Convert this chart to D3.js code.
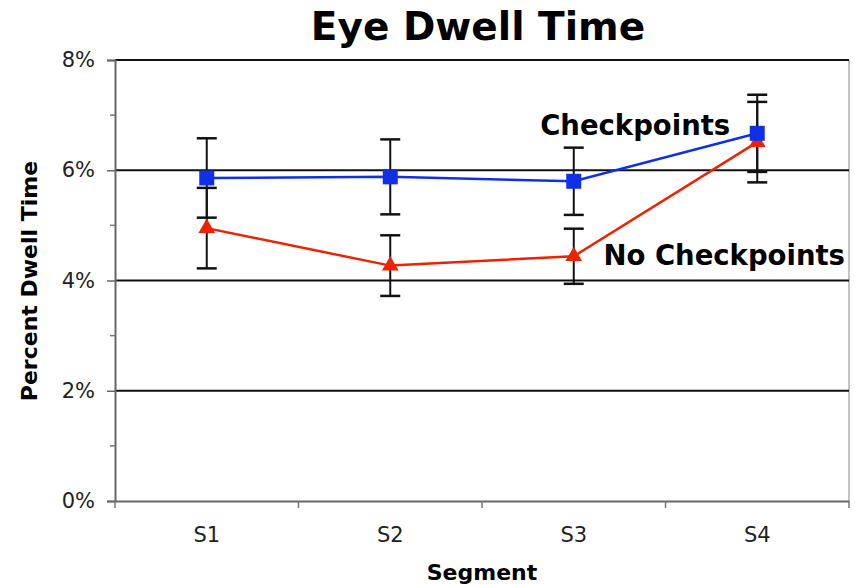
<!DOCTYPE html>
<html>
<head>
<meta charset="utf-8">
<script src="https://cdn.jsdelivr.net/npm/d3@7/dist/d3.min.js"></script>
<style>
  body { margin: 0; background: #fff; }
  text { font-family: "DejaVu Sans", Verdana, sans-serif; }
</style>
</head>
<body>
<div id="chart"></div>
<script>
var segments = ["S1", "S2", "S3", "S4"];
var checkpoints = [5.86, 5.88, 5.80, 6.67];
var checkpointsErr = [0.72, 0.68, 0.61, 0.70];
var noCheckpoints = [4.95, 4.27, 4.44, 6.51];
var noCheckpointsErr = [0.73, 0.55, 0.50, 0.73];
var yMajorTicks = [0, 2, 4, 6, 8];
var yMinorTicks = [1, 3, 5, 7];

var svgWidth = 855;
var svgHeight = 585;

var margin = { top: 60, right: 6, bottom: 84, left: 115 };
var width = svgWidth - margin.left - margin.right;
var height = svgHeight - margin.top - margin.bottom;

var svg = d3.select("#chart")
  .append("svg")
  .attr("width", svgWidth)
  .attr("height", svgHeight);

var chartGroup = svg.append("g")
  .attr("transform", `translate(${margin.left}, ${margin.top})`);

var xScale = d3.scaleBand()
  .domain(segments)
  .range([0, width]);

var yScale = d3.scaleLinear()
  .domain([0, 8])
  .range([height, 0]);

// right border
chartGroup.append("line")
  .attr("x1", width).attr("x2", width)
  .attr("y1", 0).attr("y2", height)
  .attr("stroke", "#b0b0b0")
  .attr("stroke-width", 1.5);

// gridlines
chartGroup.selectAll(".grid")
  .data(yMajorTicks.filter(d => d > 0))
  .enter()
  .append("line")
  .attr("class", "grid")
  .attr("x1", 0).attr("x2", width)
  .attr("y1", d => yScale(d)).attr("y2", d => yScale(d))
  .attr("stroke", "#111")
  .attr("stroke-width", 2);

// y axis
var leftAxis = d3.axisLeft(yScale)
  .tickValues(yMajorTicks)
  .tickSize(8)
  .tickPadding(12)
  .tickFormat(d => d + "%");

var yAxisG = chartGroup.append("g").call(leftAxis);
yAxisG.select(".domain").attr("stroke", "#666").attr("stroke-width", 2);
yAxisG.selectAll(".tick line").attr("stroke", "#666").attr("stroke-width", 1.5);
yAxisG.selectAll(".tick text")
  .style("font-size", "21px")
  .style("font-family", "'DejaVu Sans', Verdana, sans-serif")
  .attr("fill", "#222");

chartGroup.selectAll(".minor")
  .data(yMinorTicks)
  .enter()
  .append("line")
  .attr("class", "minor")
  .attr("x1", -5).attr("x2", 0)
  .attr("y1", d => yScale(d)).attr("y2", d => yScale(d))
  .attr("stroke", "#777")
  .attr("stroke-width", 1.5);

// x axis
var bottomAxis = d3.axisBottom(xScale)
  .tickSize(0)
  .tickPadding(26);

var xAxisG = chartGroup.append("g")
  .attr("transform", `translate(0, ${height})`)
  .call(bottomAxis);
xAxisG.select(".domain").attr("stroke", "#666").attr("stroke-width", 2);
xAxisG.selectAll(".tick text")
  .style("font-size", "21px")
  .style("font-family", "'DejaVu Sans', Verdana, sans-serif")
  .attr("fill", "#222");

var boundaries = segments.map(d => xScale(d)).concat([width]);
chartGroup.selectAll(".xtick")
  .data(boundaries)
  .enter()
  .append("line")
  .attr("class", "xtick")
  .attr("x1", d => d).attr("x2", d => d)
  .attr("y1", height).attr("y2", height + 7)
  .attr("stroke", "#777")
  .attr("stroke-width", 1.5);

var cx = d => xScale(d) + xScale.bandwidth() / 2;

function drawSeries(values, errs, color) {
  var rows = segments.map((s, i) => ({ seg: s, v: values[i], e: errs[i] }));

  var line = d3.line()
    .x(d => cx(d.seg))
    .y(d => yScale(d.v));

  chartGroup.append("path")
    .datum(rows)
    .attr("d", line)
    .attr("fill", "none")
    .attr("stroke", color)
    .attr("stroke-width", 2.5);

  var err = chartGroup.append("g");
  rows.forEach(function(d) {
    var x = cx(d.seg);
    var y1 = yScale(d.v + d.e);
    var y2 = yScale(d.v - d.e);
    err.append("line")
      .attr("x1", x).attr("x2", x).attr("y1", y1).attr("y2", y2)
      .attr("stroke", "#111").attr("stroke-width", 2);
    [y1, y2].forEach(function(y) {
      err.append("line")
        .attr("x1", x - 10).attr("x2", x + 10).attr("y1", y).attr("y2", y)
        .attr("stroke", "#111").attr("stroke-width", 2.5);
    });
  });

  return rows;
}

var blueRows = drawSeries(checkpoints, checkpointsErr, "#1030e8");
var redRows = drawSeries(noCheckpoints, noCheckpointsErr, "#ee2200");

chartGroup.selectAll(".tri")
  .data(redRows)
  .enter()
  .append("path")
  .attr("class", "tri")
  .attr("d", d3.symbol().type(d3.symbolTriangle).size(120))
  .attr("transform", d => `translate(${cx(d.seg)}, ${yScale(d.v)})`)
  .attr("fill", "#ee2200");

chartGroup.selectAll(".sq")
  .data(blueRows)
  .enter()
  .append("rect")
  .attr("class", "sq")
  .attr("x", d => cx(d.seg) - 7.5)
  .attr("y", d => yScale(d.v) - 7.5)
  .attr("width", 15)
  .attr("height", 15)
  .attr("fill", "#1030e8");

// series labels
chartGroup.append("text")
  .attr("x", cx("S4") - 27)
  .attr("y", yScale(checkpoints[3]) + 2)
  .attr("text-anchor", "end")
  .style("font-size", "27.5px")
  .style("font-weight", "bold")
  .text("Checkpoints");

chartGroup.append("text")
  .attr("x", width - 4)
  .attr("y", yScale(noCheckpoints[2]) + 9)
  .attr("text-anchor", "end")
  .style("font-size", "27.5px")
  .style("font-weight", "bold")
  .text("No Checkpoints");

// title
svg.append("text")
  .attr("x", 478)
  .attr("y", 40)
  .attr("text-anchor", "middle")
  .style("font-size", "39px")
  .style("font-weight", "bold")
  .text("Eye Dwell Time");

// axis titles
svg.append("text")
  .attr("transform", "rotate(-90)")
  .attr("x", -281)
  .attr("y", 37)
  .attr("text-anchor", "middle")
  .style("font-size", "22px")
  .style("font-weight", "bold")
  .text("Percent Dwell Time");

svg.append("text")
  .attr("x", margin.left + width / 2)
  .attr("y", 580)
  .attr("text-anchor", "middle")
  .style("font-size", "22px")
  .style("font-weight", "bold")
  .text("Segment");
</script>
</body>
</html>
